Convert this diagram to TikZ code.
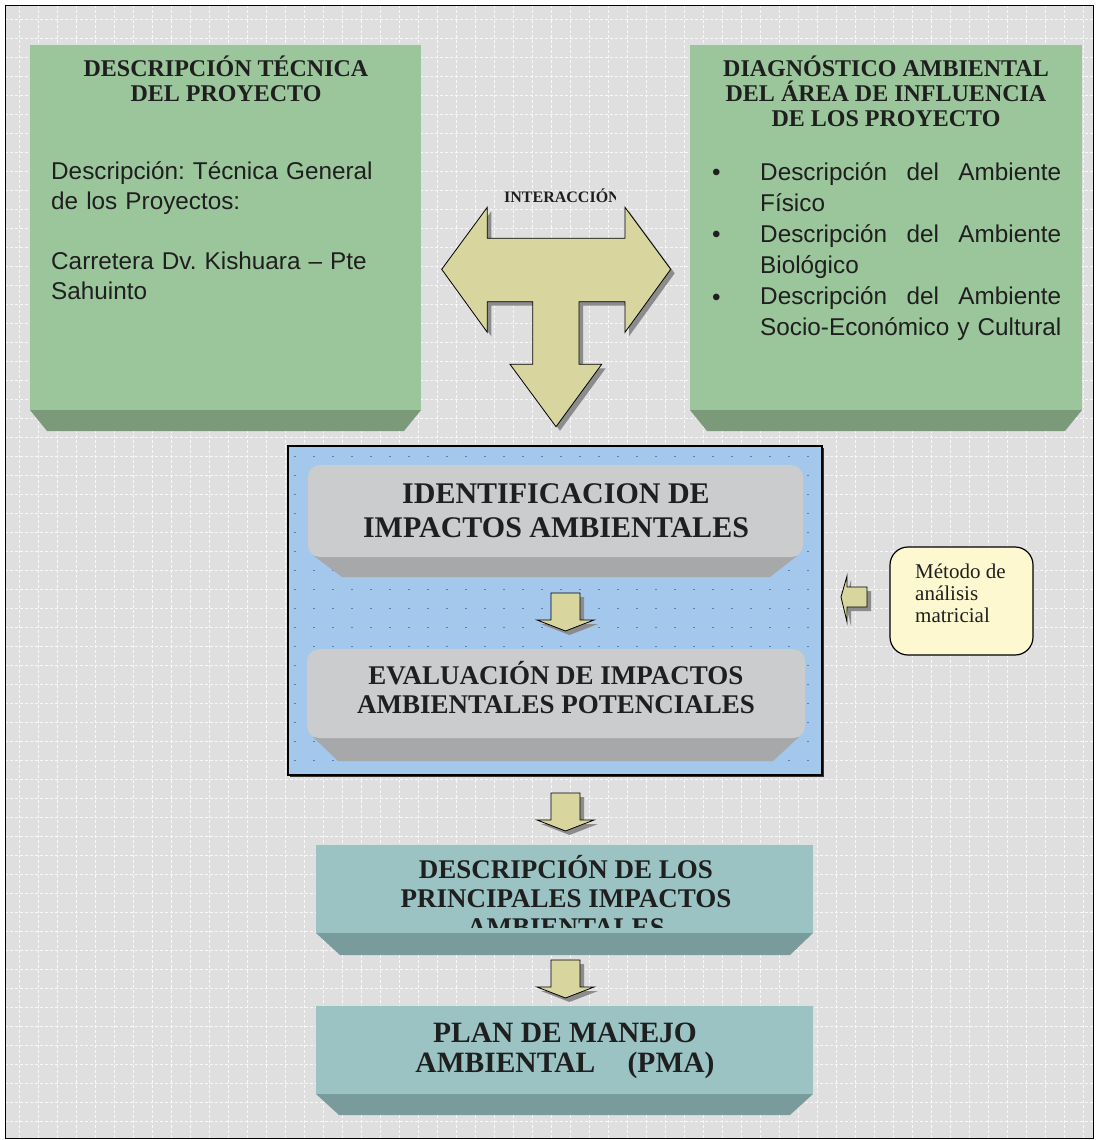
\documentclass[tikz,border=0pt]{standalone}
\usepackage{fontspec}
\setmainfont{Liberation Serif}
\setsansfont{Liberation Sans}
\usetikzlibrary{positioning}

\definecolor{greenface}{HTML}{9BC59B}
\definecolor{greenside}{HTML}{7A9A7A}
\definecolor{tealface}{HTML}{9CC3C4}
\definecolor{tealside}{HTML}{7A9B9B}
\definecolor{grayface}{HTML}{CBCCCE}
\definecolor{grayside}{HTML}{A7A8AA}
\definecolor{bluefill}{HTML}{A3C8EC}
\definecolor{bluedot}{HTML}{5A7FB8}
\definecolor{arrowfill}{HTML}{D8D69E}
\definecolor{notefill}{HTML}{FDF8CF}
\definecolor{backfill}{HTML}{DFDFDF}

\begin{document}
\frenchspacing
\begin{tikzpicture}[x=1pt,y=-1pt,
  face/.style={inner sep=0pt,outer sep=0pt,anchor=north west},
  headtext/.style={anchor=base,align=center,text=black!88,inner sep=0pt},
  bodytext/.style={anchor=base west,align=left,text=black!88,inner sep=0pt,font=\sffamily\fontsize{24.3}{30}\selectfont},
  blockarrow/.style={draw=black,line width=0.8pt,fill=arrowfill,line join=miter,
    preaction={fill=black!45,transform canvas={shift={(4,4)}}}}]

\useasboundingbox (0,0) rectangle (1097,1140);
% background
\fill[backfill] (5,5) rectangle (1093,1138);
\draw[white,opacity=0.8,line width=0.7pt,dash pattern=on 3pt off 2pt,step=19pt] (5,5) grid (1093,1138);
\draw[black,line width=0.6pt] (5,5) rectangle (1093,1138);

% top left box
\node[face,fill=greenface,minimum width=391,minimum height=365] (tec_box) at (30,45) {};
\fill[greenside] (tec_box.south west) -- ++(17,21) -- ++(357,0) -- (tec_box.south east) -- cycle;
\node[headtext,font=\bfseries\fontsize{24}{25}\selectfont] (tec_title) at (226,101)
  {DESCRIPCIÓN TÉCNICA\\DEL PROYECTO};
\node[bodytext,text width=360] (tec_text) at (51,179)
  {Descripción: Técnica General\\de los Proyectos:\\[30pt]Carretera Dv. Kishuara – Pte\\Sahuinto};

% top right box
\node[face,fill=greenface,minimum width=392,minimum height=365] (amb_box) at (690,45) {};
\fill[greenside] (amb_box.south west) -- ++(17,21) -- ++(358,0) -- (amb_box.south east) -- cycle;
\node[headtext,font=\bfseries\fontsize{24}{25}\selectfont] (amb_title) at (886,126)
  {DIAGNÓSTICO AMBIENTAL\\DEL ÁREA DE INFLUENCIA\\DE LOS PROYECTO};
\foreach \y [count=\i] in {180,242,305}
  \node[bodytext] (amb_bullet\i) at (712,\y) {•};
\node[bodytext,text width=301,font=\sffamily\fontsize{24.3}{31}\selectfont] (amb_text) at (760,180)
  {Descripción\hfill del\hfill Ambiente\\Físico\\
   Descripción\hfill del\hfill Ambiente\\Biológico\\
   Descripción\hfill del\hfill Ambiente\\\mbox{Socio-Económico y Cultural}};

% interaction arrow
\draw[blockarrow] (441.7,269.3) -- (487.3,207.3) -- (487.3,238.3) -- (625,238.3) -- (625,207.3)
  -- (670.7,269.3) -- (625,332.3) -- (625,301.7) -- (579,301.7) -- (579,364.3) -- (601.7,364.3)
  -- (556,426.7) -- (510,364.3) -- (532.7,364.3) -- (532.7,301.7) -- (487.3,301.7) -- (487.3,332.3) -- cycle;
\begin{scope}
  \clip (480,180) rectangle (615,210);
  \node[anchor=base west,font=\bfseries\fontsize{16}{16}\selectfont,text=black!88,inner sep=0pt] (inter_label) at (504,202) {INTERACCIÓN};
\end{scope}

% evaluation frame
\node[face,draw=black,line width=2pt,fill=bluefill,minimum width=534,minimum height=329,
  preaction={fill=black!80,transform canvas={shift={(2,2)}}}] (eval_frame) at (288,446) {};
\foreach \yy in {456,475,...,765}
  \draw[bluedot,line width=0.8pt,dash pattern=on 2pt off 17pt] (294,\yy) -- (818,\yy);

\fill[grayside] (314,556) -- (797,556) -- (770,577) -- (342,577) -- cycle;
\node[face,fill=grayface,rounded corners=12,minimum width=495,minimum height=92] (ident_box) at (308,465) {};
\node[headtext,font=\bfseries\fontsize{30}{34}\selectfont] (ident_text) at (556,537)
  {IDENTIFICACION DE\\IMPACTOS AMBIENTALES};

\fill[grayside] (313,737) -- (799,737) -- (773,761) -- (338,761) -- cycle;
\node[face,fill=grayface,rounded corners=12,minimum width=498,minimum height=89] (eval_box) at (307,649) {};
\node[headtext,font=\bfseries\fontsize{27}{29}\selectfont] (eval_text) at (556,713)
  {EVALUACIÓN DE IMPACTOS\\AMBIENTALES POTENCIALES};

% small down arrows
\foreach \y in {593,793,960}{
  \coordinate (down_\y) at (565.5,\y);
  \draw[blockarrow] (down_\y) ++(-14.5,0) -- ++(29,0) -- ++(0,27) -- ++(14,0) -- ++(-28.5,11)
    -- ++(-28.5,-11) -- ++(14,0) -- cycle;
}

% method note
\draw[blockarrow] (841,597) -- (847,576) -- (847,587) -- (867,587) -- (867,607) -- (847,607) -- (847,622) -- cycle;
\node[face,draw=black,line width=1.2pt,fill=notefill,rounded corners=18,minimum width=143,minimum height=108] (method_box) at (890,547) {};
\node[anchor=base west,align=left,inner sep=0pt,font=\fontsize{21}{22}\selectfont,text=black!88] (method_text) at (915,622)
  {Método de\\análisis\\matricial};

% lower boxes
\fill[tealside] (316,933) -- ++(24,22) -- ++(450,0) -- (813,933) -- cycle;
\node[face,fill=tealface,minimum width=497,minimum height=88] (desc_box) at (316,845) {};
\begin{scope}
  \clip (316,845) rectangle (813,927);
  \node[headtext,font=\bfseries\fontsize{27}{29}\selectfont] (desc_text) at (566,936)
    {DESCRIPCIÓN DE LOS\\PRINCIPALES IMPACTOS\\AMBIENTALES};
\end{scope}

\fill[tealside] (316,1094) -- ++(23,21) -- ++(451,0) -- (813,1094) -- cycle;
\node[face,fill=tealface,minimum width=497,minimum height=88] (pma_box) at (316,1006) {};
\node[headtext,font=\bfseries\fontsize{29.5}{30}\selectfont] (pma_text) at (565,1072)
  {PLAN DE MANEJO\\AMBIENTAL\hspace{1.1em}(PMA)};
\end{tikzpicture}
\end{document}
